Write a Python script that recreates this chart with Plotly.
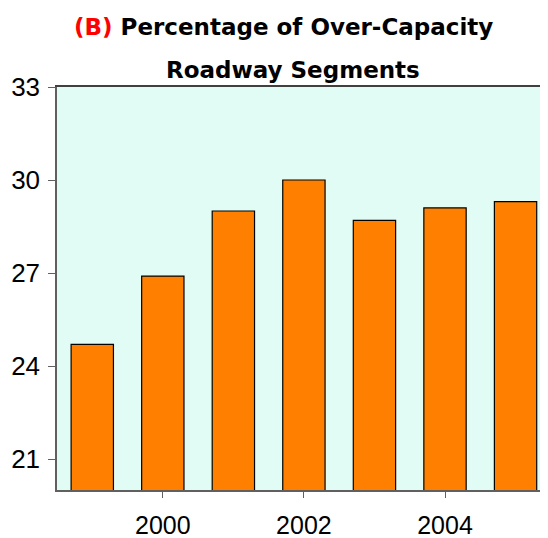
import plotly.graph_objects as go

years = [1999, 2000, 2001, 2002, 2003, 2004, 2005]
pct_over_capacity = [24.7, 26.9, 29.0, 30.0, 28.7, 29.1, 29.3]
x_ticks = [2000, 2002, 2004]
y_ticks = [21, 24, 27, 30, 33]

fig = go.Figure()
fig.add_trace(go.Bar(
    x=years, y=pct_over_capacity, width=0.6,
    marker=dict(color="#FF8000", line=dict(color="#000000", width=1.2)),
))
# invisible top axis for the top frame line
fig.add_trace(go.Scatter(x=[years[0]], y=[pct_over_capacity[0]], xaxis="x2",
                         mode="markers", marker=dict(opacity=0), hoverinfo="skip"))

fig.update_layout(
    width=540, height=530,
    margin=dict(l=49, r=0, t=79, b=48, autoexpand=False),
    paper_bgcolor="white",
    plot_bgcolor="#E0FCF4",
    showlegend=False,
    font=dict(family="Liberation Sans, Arial", color="black"),
    xaxis=dict(range=[1998.5, 2005.46], tickvals=x_ticks, ticks="outside", ticklen=6,
               tickcolor="#606060", showline=True, linecolor="#606060", linewidth=1.5,
               showgrid=False, zeroline=False, tickfont=dict(size=25),
               ticklabelstandoff=6, automargin=False),
    xaxis2=dict(range=[1998.5, 2005.46], overlaying="x", side="top", showline=True,
                linecolor="#404040", linewidth=1.5, showticklabels=False, ticks="",
                showgrid=False, zeroline=False, automargin=False),
    yaxis=dict(range=[20, 33], tickvals=y_ticks, ticks="outside", ticklen=7,
               tickcolor="#606060", showline=True, linecolor="#606060", linewidth=1.5,
               showgrid=False, zeroline=False, tickfont=dict(size=26),
               ticklabelstandoff=3, automargin=False),
    annotations=[
        dict(text="<span style='color:#FF0000'>(B)</span> Percentage of Over-Capacity",
             xref="paper", yref="paper", x=0.462, y=1.149, xanchor="center", yanchor="middle",
             showarrow=False, font=dict(family="DejaVu Sans", size=23, color="black", weight="bold")),
        dict(text="Roadway Segments",
             xref="paper", yref="paper", x=0.48, y=1.042, xanchor="center", yanchor="middle",
             showarrow=False, font=dict(family="DejaVu Sans", size=23, color="black", weight="bold")),
    ],
)
fig.write_html("out.html")
